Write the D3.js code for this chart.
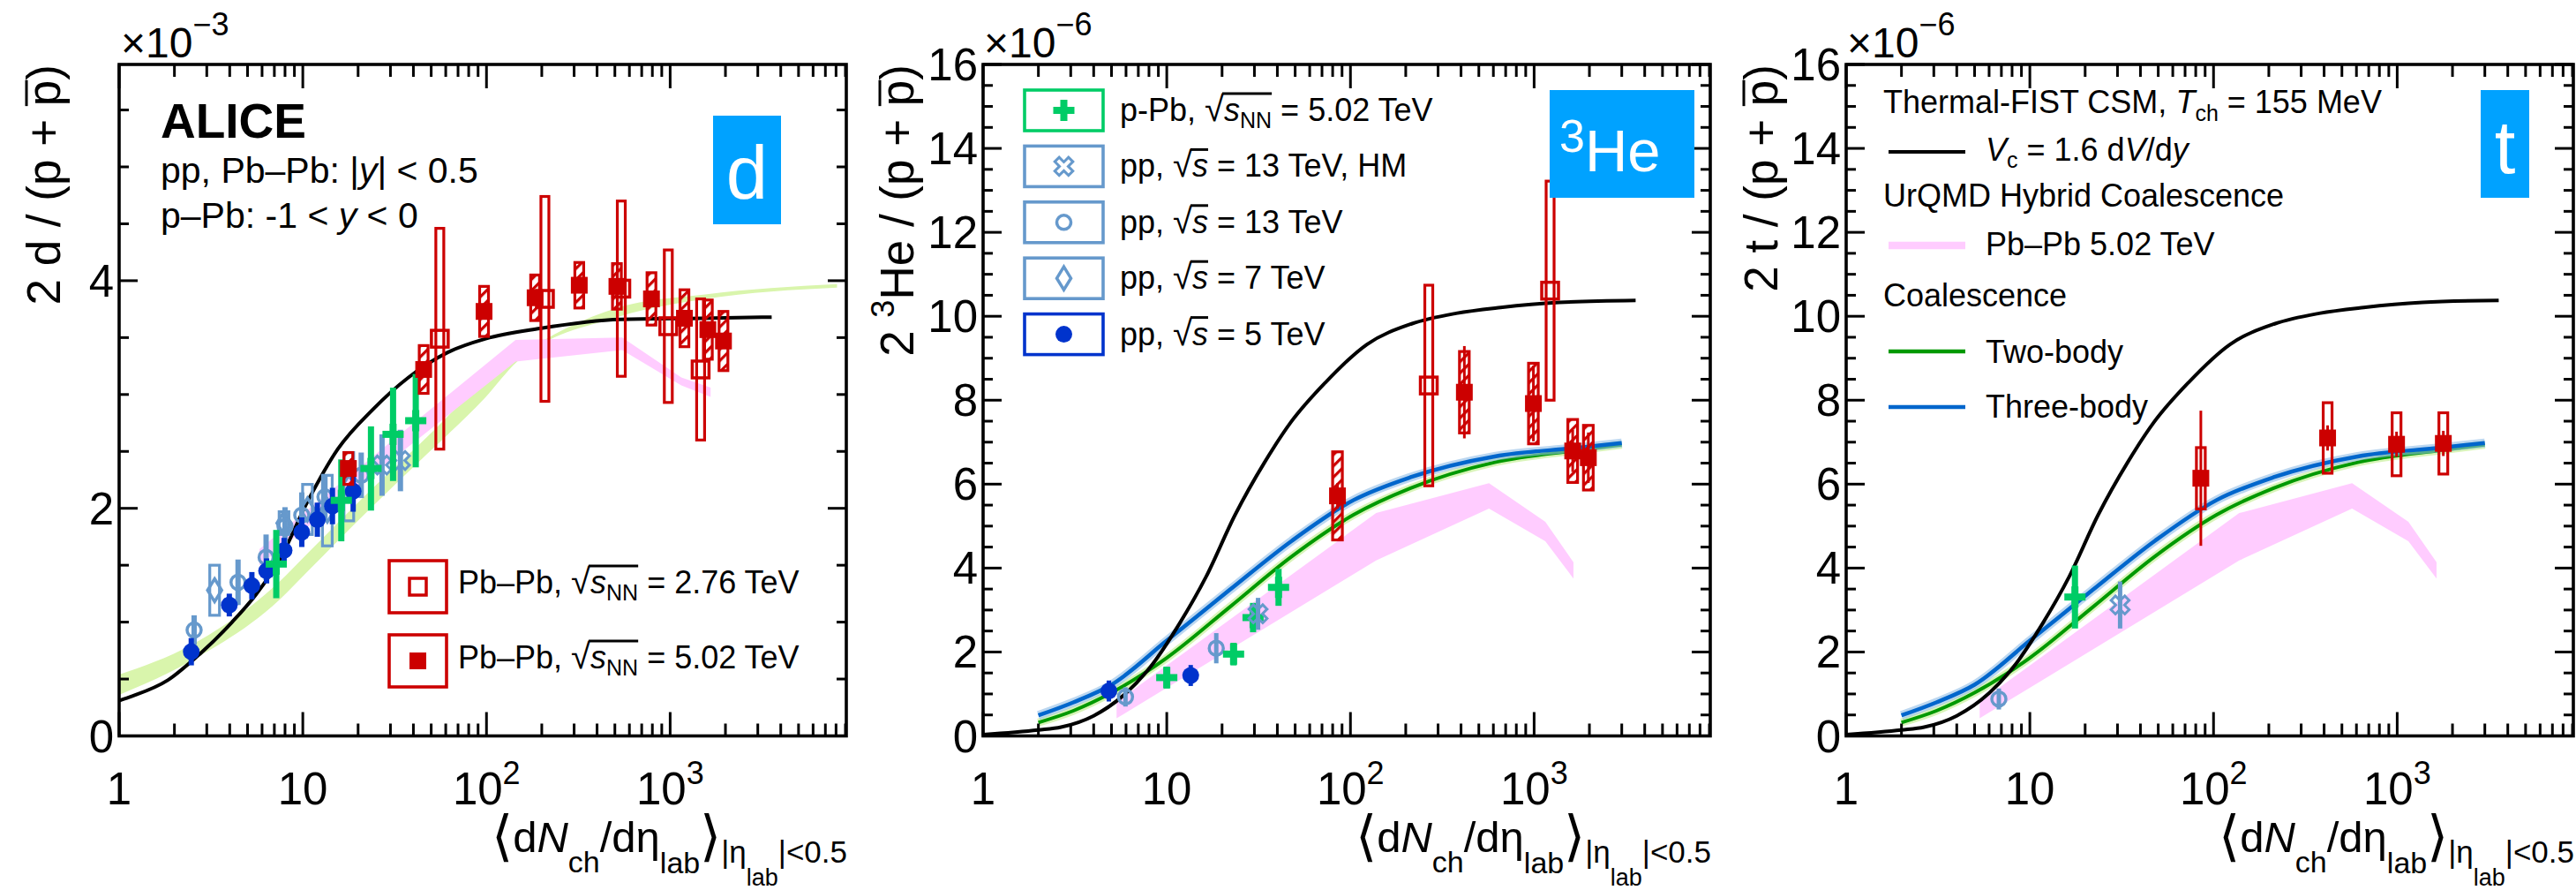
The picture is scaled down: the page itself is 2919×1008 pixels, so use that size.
<!DOCTYPE html>
<html>
<head>
<meta charset="utf-8">
<script src="https://cdn.jsdelivr.net/npm/d3@7"></script>
<style>
  body { margin: 0; background: #fff; }
  text { font-family: "Liberation Sans", Arial, sans-serif; fill: #000; }
</style>
</head>
<body>
<svg id="chart" width="2919" height="1008"></svg>
<script>
// ---------------- deuteron panel (values x 1e-3) ----------------
const dPP5X = [2.47, 3.98, 5.28, 6.35, 7.91, 9.87, 12.0, 14.5, 18.8];
const dPP5Y = [0.74, 1.15, 1.32, 1.45, 1.63, 1.79, 1.90, 2.02, 2.15];
const dPP5Err = [0.12, 0.10, 0.12, 0.11, 0.11, 0.13, 0.15, 0.16, 0.18];

const dPP13X = [2.56, 4.44, 6.31, 8.0, 9.87, 13.2, 20.8];
const dPP13Y = [0.93, 1.35, 1.57, 1.84, 1.94, 2.10, 2.29];
const dPP13Err = [0.13, 0.20, 0.20, 0.17, 0.20, 0.20, 0.20];

const dPP7X = [3.31, 7.9, 10.6, 13.6, 17.8];
const dPP7Y = [1.28, 1.87, 1.99, 1.98, 2.19];
const dPP7Sys = [0.22, 0.10, 0.22, 0.31, 0.30];

const dHMX = [27, 34];
const dHMY = [2.38, 2.42];
const dHMErr = [0.27, 0.27];

const dPPbX = [7.17, 16.2, 23.5, 31.0, 41.2];
const dPPbY = [1.51, 2.07, 2.35, 2.65, 2.77];
const dPPbErr = [0.30, 0.36, 0.37, 0.41, 0.41];

const dPbPb502X = [17.7, 45.5, 97, 184, 320, 513, 791, 1196, 1604, 1951];
const dPbPb502Y = [2.35, 3.22, 3.73, 3.85, 3.96, 3.95, 3.84, 3.67, 3.57, 3.47];
const dPbPb502Sys = [0.14, 0.21, 0.22, 0.20, 0.20, 0.20, 0.23, 0.25, 0.26, 0.26];

const dPbPb276X = [55.7, 208, 542, 977, 1465];
const dPbPb276Y = [3.49, 3.84, 3.93, 3.60, 3.22];
const dPbPb276Sys = [0.97, 0.90, 0.77, 0.67, 0.62];

const dCsmX = [1, 1.18, 1.84, 2.75, 4.12, 5.54, 7.43, 10.7, 15.5, 24.1, 37.6, 61.5, 99, 195, 535, 1480, 3570];
const dCsmY = [0.31, 0.35, 0.49, 0.72, 1.00, 1.24, 1.54, 2.07, 2.52, 2.87, 3.15, 3.37, 3.49, 3.58, 3.66, 3.67, 3.68];

const dCoalX = [1, 2.47, 7.4, 10.7, 22.4, 47, 98, 147, 513, 1550, 8100];
const dCoalLo = [0.36, 0.66, 1.19, 1.45, 1.97, 2.47, 2.97, 3.29, 3.68, 3.84, 3.94];
const dCoalHi = [0.54, 0.80, 1.35, 1.61, 2.13, 2.62, 3.12, 3.33, 3.76, 3.88, 3.97];

const dUrqmdX = [5.8, 144, 548, 1150, 1660];
const dUrqmdLo = [1.50, 3.29, 3.39, 3.08, 2.98];
const dUrqmdHi = [1.64, 3.48, 3.50, 3.15, 3.06];

// ---------------- A = 3 models (values x 1e-6) ----------------
const a3CsmX = [1, 2, 2.66, 4, 6, 8.1, 11.7, 16.4, 23.5, 34.2, 47.3, 73, 123, 215, 376, 657, 1370, 3570];
const a3CsmY = [0.03, 0.14, 0.21, 0.48, 1.02, 1.63, 2.67, 3.80, 5.26, 6.53, 7.47, 8.42, 9.33, 9.82, 10.07, 10.21, 10.33, 10.38];
const a3CoalX = [2, 3.1, 5, 10, 22, 48, 104, 211, 610, 1750, 3000];
const a3ThreeBodyY = [0.49, 0.80, 1.22, 2.27, 3.48, 4.65, 5.62, 6.16, 6.66, 6.87, 6.98];
const a3TwoBodyY = [0.32, 0.60, 1.03, 1.86, 3.07, 4.28, 5.27, 5.90, 6.52, 6.81, 6.94];
const a3UrqmdX = [5.33, 138, 568, 1151, 1637];
const a3UrqmdLo = [0.42, 4.18, 5.42, 4.64, 3.75];
const a3UrqmdHi = [0.81, 5.31, 6.02, 5.10, 4.14];

// ---------------- 3He panel ----------------
const hePP5X = [4.84, 13.5], hePP5Y = [1.07, 1.44], hePP5Err = [0.25, 0.25];
const hePP13X = [5.96, 18.6], hePP13Y = [0.93, 2.09], hePP13Err = [0.23, 0.36];
const heHMX = [31.4], heHMY = [2.91], heHMErr = [0.38];
const hePPbX = [10.0, 23.1, 29.5, 40.6];
const hePPbY = [1.39, 1.95, 2.82, 3.54];
const hePPbErr = [0.26, 0.27, 0.35, 0.44];
const hePbPb502X = [85, 417, 991, 1622, 1973];
const hePbPb502Y = [5.72, 8.19, 7.92, 6.79, 6.63];
const hePbPb502Sys = [1.05, 0.97, 0.96, 0.75, 0.77];
const hePbPb502Stat = [0.3, 1.1, 0.9, 0.5, 0.6];
const hePbPb276X = [267, 1222], hePbPb276Y = [8.35, 10.61], hePbPb276Sys = [2.39, 2.61];

// ---------------- triton panel ----------------
const tPP13X = [6.78], tPP13Y = [0.88], tPP13Err = [0.25];
const tPPbX = [17.6], tPPbY = [3.31], tPPbErr = [0.75];
const tHMX = [31.0], tHMY = [3.12], tHMErr = [0.56];
const tPbPb502X = [85.3, 418, 992, 1783];
const tPbPb502Y = [6.14, 7.10, 6.95, 6.97];
const tPbPb502Sys = [0.73, 0.84, 0.75, 0.73];
const tPbPb502Stat = [1.61, 0.3, 0.3, 0.3];

// axes
const xDomain = [1, 9100];
const xLabelTicks = [1, 10, 100, 1000];
const dYMax = 5.9, dYLabels = [0, 2, 4];
const a3YMax = 16, a3YLabels = [0, 2, 4, 6, 8, 10, 12, 14, 16];

// layout
const panelLeft = [135, 1114, 2092];
const panelWidth = 824;
const plotTop = 73, plotBottom = 833.5;

const RED = '#cc0000', GREEN = '#00cc66', LBLUE = '#6699cc', DBLUE = '#0033cc';
const BADGE = '#00a2ff', PINK = '#ffccff', LIME = '#d9f5ac', CBLUE = '#0066cc', CGREEN = '#009900';

const svg = d3.select('#chart');
svg.append('rect').attr('width', 2919).attr('height', 1008).attr('fill', '#fff');
const defs = svg.append('defs');
defs.append('pattern').attr('id', 'hatch').attr('patternUnits', 'userSpaceOnUse')
  .attr('width', 9).attr('height', 9).attr('patternTransform', 'rotate(45)')
  .append('rect').attr('x', 0).attr('y', 0).attr('width', 3.2).attr('height', 9).attr('fill', RED);

function makePanel(i, yMax) {
  const left = panelLeft[i];
  const x = d3.scaleLog().domain(xDomain).range([left, left + panelWidth]);
  const y = d3.scaleLinear().domain([0, yMax]).range([plotBottom, plotTop]);
  return { g: svg.append('g'), x, y, left, right: left + panelWidth, yMax };
}

// rich text made of tspans; returns char ranges of every segment
function rich(parent, x, y, size, segs, anchor) {
  const t = parent.append('text').attr('x', x).attr('y', y).attr('font-size', size)
    .attr('text-anchor', anchor || 'start');
  let up = 0, idx = 0;
  const pos = [];
  segs.forEach(s => {
    if (typeof s === 'string') s = { t: s };
    const u = s.up || 0;
    const ts = t.append('tspan').attr('dy', up - u).text(s.t);
    up = u;
    if (s.fs) ts.attr('font-size', s.fs);
    if (s.it) ts.attr('font-style', 'italic');
    if (s.b) ts.attr('font-weight', 'bold');
    pos.push([idx, idx + s.t.length - 1]);
    idx += s.t.length;
  });
  return { t, pos };
}

function overBar(r, segA, segB, yb, sw, fromEnd) {
  const n = r.t.node();
  const xa = fromEnd ? n.getEndPositionOfChar(r.pos[segA][1]).x - 2 : n.getStartPositionOfChar(r.pos[segA][0]).x;
  const xb = n.getEndPositionOfChar(r.pos[segB][1]).x;
  d3.select(n.parentNode).append('line').attr('x1', xa).attr('x2', xb).attr('y1', yb).attr('y2', yb)
    .attr('stroke', '#000').attr('stroke-width', sw);
}

function marker(g, X, Y, type, color, k) {
  k = k || 1;
  if (type === 'fcircle') {
    g.append('circle').attr('cx', X).attr('cy', Y).attr('r', 9.5 * k).attr('fill', color);
  } else if (type === 'ocircle') {
    g.append('circle').attr('cx', X).attr('cy', Y).attr('r', 8 * k).attr('fill', 'none')
      .attr('stroke', color).attr('stroke-width', 3.5);
  } else if (type === 'odiamond') {
    g.append('path').attr('d', `M${X},${Y - 13 * k}L${X + 8 * k},${Y}L${X},${Y + 13 * k}L${X - 8 * k},${Y}Z`)
      .attr('fill', 'none').attr('stroke', color).attr('stroke-width', 3.5);
  } else if (type === 'fsquare') {
    g.append('rect').attr('x', X - 9.5 * k).attr('y', Y - 9.5 * k).attr('width', 19 * k).attr('height', 19 * k).attr('fill', color);
  } else if (type === 'osquare') {
    g.append('rect').attr('x', X - 9.5 * k).attr('y', Y - 9.5 * k).attr('width', 19 * k).attr('height', 19 * k)
      .attr('fill', 'none').attr('stroke', color).attr('stroke-width', 3.5);
  } else if (type === 'plus') {
    g.append('rect').attr('x', X - 12 * k).attr('y', Y - 4 * k).attr('width', 24 * k).attr('height', 8 * k).attr('fill', color);
    g.append('rect').attr('x', X - 4 * k).attr('y', Y - 12 * k).attr('width', 8 * k).attr('height', 24 * k).attr('fill', color);
  } else if (type === 'ox') {
    const L = 11 * k, t = 3.5 * k;
    const pts = [[t, -L], [t, -t], [L, -t], [L, t], [t, t], [t, L], [-t, L], [-t, t], [-L, t], [-L, -t], [-t, -t], [-t, -L]];
    g.append('path').attr('d', 'M' + pts.map(p => p.join(',')).join('L') + 'Z')
      .attr('transform', `translate(${X},${Y}) rotate(45)`)
      .attr('fill', 'none').attr('stroke', color).attr('stroke-width', 3);
  }
}

function drawSeries(p, xs, ys, o) {
  const g = p.g.append('g');
  xs.forEach((xv, i) => {
    const X = p.x(xv), Y = p.y(ys[i]);
    if (o.sys) {
      const s = o.sys[i];
      g.append('rect').attr('x', X - o.sysW / 2).attr('y', p.y(ys[i] + s))
        .attr('width', o.sysW).attr('height', p.y(ys[i] - s) - p.y(ys[i] + s))
        .attr('fill', o.hatch ? 'url(#hatch)' : 'none').attr('stroke', o.color).attr('stroke-width', 3.2);
    }
    if (o.err) {
      const e = o.err[i];
      g.append('line').attr('x1', X).attr('x2', X).attr('y1', p.y(ys[i] + e)).attr('y2', p.y(ys[i] - e))
        .attr('stroke', o.color).attr('stroke-width', o.errW || 3);
    }
    marker(g, X, Y, o.marker, o.color);
  });
}

function band(p, xs, lo, hi, color, smooth) {
  const a = d3.area().x(d => p.x(d[0])).y0(d => p.y(d[1])).y1(d => p.y(d[2]));
  if (smooth) a.curve(d3.curveMonotoneX);
  p.g.append('path').attr('d', a(d3.zip(xs, lo, hi))).attr('fill', color);
}

function curve(p, xs, ys, color, sw, opacity) {
  const l = d3.line().x(d => p.x(d[0])).y(d => p.y(d[1])).curve(d3.curveMonotoneX);
  p.g.append('path').attr('d', l(d3.zip(xs, ys))).attr('fill', 'none')
    .attr('stroke', color).attr('stroke-width', sw).attr('stroke-opacity', opacity || 1)
    .attr('stroke-linejoin', 'round');
}

function drawFrame(p, yLabels) {
  const g = p.g.append('g');
  p.x.ticks().filter(v => v <= xDomain[1]).forEach(v => {
    const e = Math.log10(v), major = Math.abs(e - Math.round(e)) < 1e-6;
    const L = major ? 27 : 14, X = p.x(v);
    g.append('line').attr('x1', X).attr('x2', X).attr('y1', plotBottom).attr('y2', plotBottom - L);
    g.append('line').attr('x1', X).attr('x2', X).attr('y1', plotTop).attr('y2', plotTop + L);
  });
  d3.range(0, p.yMax + 1e-9, 0.5).forEach(v => {
    const major = yLabels.includes(v);
    const L = major ? 21 : 11, Y = p.y(v);
    g.append('line').attr('x1', p.left).attr('x2', p.left + L).attr('y1', Y).attr('y2', Y);
    g.append('line').attr('x1', p.right).attr('x2', p.right - L).attr('y1', Y).attr('y2', Y);
  });
  g.selectAll('line').attr('stroke', '#000').attr('stroke-width', 3);
  g.append('rect').attr('x', p.left).attr('y', plotTop).attr('width', panelWidth).attr('height', plotBottom - plotTop)
    .attr('fill', 'none').attr('stroke', '#000').attr('stroke-width', 3.6);

  xLabelTicks.forEach(v => {
    const e = Math.round(Math.log10(v));
    const segs = e < 2 ? [String(v)] : ['10', { t: String(e), fs: 36, up: 23 }];
    rich(g, p.x(v), 911, 51, segs, 'middle');
  });
  yLabels.forEach(v => {
    g.append('text').attr('x', p.left - 6).attr('y', p.y(v) + 18).attr('font-size', 51)
      .attr('text-anchor', 'end').text(v);
  });
  // x axis title
  rich(g, p.right + 1, 965, 49, [
    { t: '⟨', fs: 62, up: -3 }, { t: 'd', up: 0 }, { t: 'N', it: true }, { t: 'ch', fs: 34, up: -23 },
    { t: '/dη', up: 0 }, { t: 'lab', fs: 34, up: -24 }, { t: '⟩', fs: 62, up: -3 },
    { t: '|η', fs: 35, up: -12 }, { t: 'lab', fs: 27, up: -38 }, { t: '|<0.5', fs: 35, up: -12 }
  ], 'end');
}

function yTitle(p, x, segs, barSeg) {
  const g = p.g.append('g').attr('transform', `translate(${x},${plotTop}) rotate(-90)`);
  const r = rich(g, 0, 0, 53, segs, 'end');
  overBar(r, barSeg, barSeg, -38, 3, false);
}

function expLabel(p, x, e) {
  rich(p.g, x, 65, 48, ['×10', { t: e, fs: 36, up: 25 }]);
}

function badge(p, x0, x1, y0, y1) {
  p.g.append('rect').attr('x', x0).attr('y', y0).attr('width', x1 - x0).attr('height', y1 - y0).attr('fill', BADGE);
}

// =================== panel 1 : deuteron ===================
const p1 = makePanel(0, dYMax);
band(p1, dCoalX, dCoalLo, dCoalHi, LIME, true);
band(p1, dUrqmdX, dUrqmdLo, dUrqmdHi, PINK, false);
curve(p1, dCsmX, dCsmY, '#000', 4);
drawSeries(p1, dPP7X, dPP7Y, { sys: dPP7Sys, sysW: 11, marker: 'odiamond', color: LBLUE });
drawSeries(p1, dPP13X, dPP13Y, { err: dPP13Err, errW: 6, marker: 'ocircle', color: LBLUE });
drawSeries(p1, dHMX, dHMY, { err: dHMErr, errW: 6, marker: 'ox', color: LBLUE });
drawSeries(p1, dPP5X, dPP5Y, { err: dPP5Err, errW: 6, marker: 'fcircle', color: DBLUE });
drawSeries(p1, dPPbX, dPPbY, { err: dPPbErr, errW: 7, marker: 'plus', color: GREEN });
drawSeries(p1, dPbPb276X, dPbPb276Y, { sys: dPbPb276Sys, sysW: 9, marker: 'osquare', color: RED });
drawSeries(p1, dPbPb502X, dPbPb502Y, { sys: dPbPb502Sys, sysW: 10, hatch: true, marker: 'fsquare', color: RED });
drawFrame(p1, dYLabels);
expLabel(p1, 137, '−3');
yTitle(p1, 68, ['2 d / (p + ', 'p', ')'], 1);

rich(p1.g, 182, 156, 55, [{ t: 'ALICE', b: true }]);
rich(p1.g, 182, 207, 41, ['pp, Pb–Pb: |', { t: 'y', it: true }, '| < 0.5']);
rich(p1.g, 182, 258, 41, ['p–Pb: -1 < ', { t: 'y', it: true }, ' < 0']);
badge(p1, 808, 885, 131, 254);
p1.g.append('text').attr('x', 846.5).attr('y', 225).attr('font-size', 85).attr('text-anchor', 'middle')
  .style('fill', '#fff').text('d');

// legend Pb-Pb
[[635, 672, 'osquare', '2.76'], [719, 757, 'fsquare', '5.02']].forEach(([top, base, m, e]) => {
  p1.g.append('rect').attr('x', 441).attr('y', top).attr('width', 65).attr('height', 59)
    .attr('fill', 'none').attr('stroke', RED).attr('stroke-width', 3.6);
  marker(p1.g, 473.5, top + 29.5, m, RED);
  const r = rich(p1.g, 519, base, 36, ['Pb–Pb, ', { t: '√', fs: 40 }, { t: 's', it: true, fs: 36 },
    { t: 'NN', fs: 25, up: -8 }, { t: ` = ${e} TeV`, up: 0 }]);
  overBar(r, 1, 3, base - 31, 3, true);
});

// =================== panel 2 : 3He ===================
const p2 = makePanel(1, a3YMax);
band(p2, a3UrqmdX, a3UrqmdLo, a3UrqmdHi, PINK, false);
curve(p2, a3CoalX, a3TwoBodyY, '#c8ef9a', 9, 0.7);
curve(p2, a3CoalX, a3TwoBodyY, CGREEN, 4);
curve(p2, a3CoalX, a3ThreeBodyY, '#8fbce6', 10, 0.6);
curve(p2, a3CoalX, a3ThreeBodyY, CBLUE, 4.5);
curve(p2, a3CsmX, a3CsmY, '#000', 4);
drawSeries(p2, hePP13X, hePP13Y, { err: hePP13Err, errW: 5, marker: 'ocircle', color: LBLUE });
drawSeries(p2, hePP5X, hePP5Y, { err: hePP5Err, errW: 5, marker: 'fcircle', color: DBLUE });
drawSeries(p2, hePPbX, hePPbY, { err: hePPbErr, errW: 7, marker: 'plus', color: GREEN });
drawSeries(p2, heHMX, heHMY, { err: heHMErr, errW: 5, marker: 'ox', color: LBLUE });
drawSeries(p2, hePbPb276X, hePbPb276Y, { sys: hePbPb276Sys, sysW: 9, marker: 'osquare', color: RED });
drawSeries(p2, hePbPb502X, hePbPb502Y, { sys: hePbPb502Sys, err: hePbPb502Stat, sysW: 11, hatch: true, marker: 'fsquare', color: RED });
drawFrame(p2, a3YLabels);
expLabel(p2, 1115, '−6');
yTitle(p2, 1035, ['2 ', { t: '3', fs: 36, up: 22 }, { t: 'He / (p + ', up: 0 }, 'p', ')'], 3);
badge(p2, 1756, 1920, 102, 224);
rich(p2.g, 1767, 194, 67, [{ t: '3', fs: 52, up: 22 }, { t: 'He', up: 0 }]).t.selectAll('tspan').style('fill', '#fff');

// legend 3He
const heLegend = [
  { m: 'plus', c: GREEN, segs: ['p-Pb, ', { t: '√', fs: 40 }, { t: 's', it: true, fs: 36 }, { t: 'NN', fs: 25, up: -8 }, { t: ' = 5.02 TeV', up: 0 }], bar: 3 },
  { m: 'ox', c: LBLUE, segs: ['pp, ', { t: '√', fs: 40 }, { t: 's', it: true, fs: 36 }, ' = 13 TeV, HM'], bar: 2 },
  { m: 'ocircle', c: LBLUE, segs: ['pp, ', { t: '√', fs: 40 }, { t: 's', it: true, fs: 36 }, ' = 13 TeV'], bar: 2 },
  { m: 'odiamond', c: LBLUE, segs: ['pp, ', { t: '√', fs: 40 }, { t: 's', it: true, fs: 36 }, ' = 7 TeV'], bar: 2 },
  { m: 'fcircle', c: DBLUE, segs: ['pp, ', { t: '√', fs: 40 }, { t: 's', it: true, fs: 36 }, ' = 5 TeV'], bar: 2 }
];
heLegend.forEach((e, i) => {
  const cy = 125 + 63.4 * i;
  p2.g.append('rect').attr('x', 1161).attr('y', cy - 23).attr('width', 89).attr('height', 46)
    .attr('fill', 'none').attr('stroke', e.c).attr('stroke-width', 3.6);
  marker(p2.g, 1205.5, cy, e.m, e.c);
  const r = rich(p2.g, 1269, cy + 12, 36, e.segs);
  overBar(r, 1, e.bar, cy + 12 - 31, 3, true);
});

// =================== panel 3 : triton ===================
const p3 = makePanel(2, a3YMax);
band(p3, a3UrqmdX, a3UrqmdLo, a3UrqmdHi, PINK, false);
curve(p3, a3CoalX, a3TwoBodyY, '#c8ef9a', 9, 0.7);
curve(p3, a3CoalX, a3TwoBodyY, CGREEN, 4);
curve(p3, a3CoalX, a3ThreeBodyY, '#8fbce6', 10, 0.6);
curve(p3, a3CoalX, a3ThreeBodyY, CBLUE, 4.5);
curve(p3, a3CsmX, a3CsmY, '#000', 4);
drawSeries(p3, tPP13X, tPP13Y, { err: tPP13Err, errW: 5, marker: 'ocircle', color: LBLUE });
drawSeries(p3, tPPbX, tPPbY, { err: tPPbErr, errW: 7, marker: 'plus', color: GREEN });
drawSeries(p3, tHMX, tHMY, { err: tHMErr, errW: 5, marker: 'ox', color: LBLUE });
drawSeries(p3, tPbPb502X, tPbPb502Y, { sys: tPbPb502Sys, err: tPbPb502Stat, sysW: 10, marker: 'fsquare', color: RED });
drawFrame(p3, a3YLabels);
expLabel(p3, 2093, '−6');
yTitle(p3, 2014, ['2 t / (p + ', 'p', ')'], 1);
badge(p3, 2811, 2866, 102, 224);
p3.g.append('text').attr('x', 2838.5).attr('y', 196).attr('font-size', 85).attr('text-anchor', 'middle')
  .style('fill', '#fff').text('t');

// legend models
rich(p3.g, 2134, 128, 36, ['Thermal-FIST CSM, ', { t: 'T', it: true }, { t: 'ch', fs: 25, up: -9 }, { t: ' = 155 MeV', up: 0 }]);
p3.g.append('line').attr('x1', 2140).attr('x2', 2227).attr('y1', 172).attr('y2', 172).attr('stroke', '#000').attr('stroke-width', 4);
rich(p3.g, 2250, 182, 36, [{ t: 'V', it: true }, { t: 'c', fs: 25, up: -8 }, { t: ' = 1.6 d', up: 0 }, { t: 'V', it: true }, '/d', { t: 'y', it: true }]);
rich(p3.g, 2134, 234, 36, ['UrQMD Hybrid Coalescence']);
p3.g.append('line').attr('x1', 2140).attr('x2', 2227).attr('y1', 278).attr('y2', 278).attr('stroke', PINK).attr('stroke-width', 8.5);
rich(p3.g, 2250, 288.5, 36, ['Pb–Pb 5.02 TeV']);
rich(p3.g, 2134, 346.5, 36, ['Coalescence']);
p3.g.append('line').attr('x1', 2140).attr('x2', 2227).attr('y1', 398).attr('y2', 398).attr('stroke', CGREEN).attr('stroke-width', 4.5);
rich(p3.g, 2250, 411, 36, ['Two-body']);
p3.g.append('line').attr('x1', 2140).attr('x2', 2227).attr('y1', 461).attr('y2', 461).attr('stroke', CBLUE).attr('stroke-width', 4.5);
rich(p3.g, 2250, 472.5, 36, ['Three-body']);
</script>
</body>
</html>
